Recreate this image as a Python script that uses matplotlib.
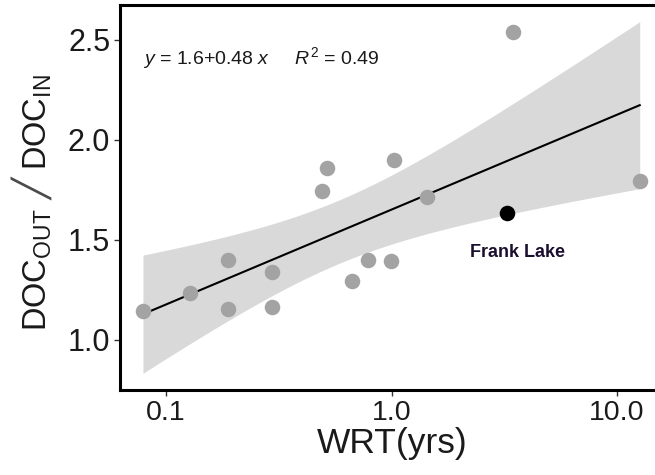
import numpy as np
import matplotlib
matplotlib.use("Agg")
import matplotlib.pyplot as plt

plt.rcParams['font.family'] = ['Liberation Sans', 'DejaVu Sans']
plt.rcParams['mathtext.fontset'] = 'custom'
plt.rcParams['mathtext.rm'] = 'Liberation Sans'
plt.rcParams['mathtext.it'] = 'Liberation Sans:italic'

# data (WRT in years, DOC ratio) -- fitted points
wrt = [0.079, 0.128, 0.188, 0.188, 0.295, 0.295, 0.492, 0.517, 0.668,
       0.787, 0.995, 1.03, 1.435, 3.47, 12.6]
doc_ratio = [1.145, 1.235, 1.40, 1.155, 1.34, 1.165, 1.745, 1.86, 1.295,
             1.40, 1.395, 1.90, 1.715, 2.54, 1.795]
# highlighted lake (not part of the fit)
frank_wrt = [3.24]
frank_ratio = [1.635]
frank_label = "Frank Lake"
eq_text = r"$\it{y}$ = 1.6+0.48 $\it{x}$     $\it{R}^2$ = 0.49"
x_ticks = [0.1, 1.0, 10.0]
x_ticklabels = ["0.1", "1.0", "10.0"]
y_ticks = [1.0, 1.5, 2.0, 2.5]
y_ticklabels = ["1.0", "1.5", "2.0", "2.5"]
ylab_num = r"$\mathrm{DOC_{OUT}}$"
ylab_den = r"$\mathrm{DOC_{IN}}$"
ylab_sep = "\u2571"
t_crit = 2.160  # 95% t quantile, df = 13

fig = plt.figure(figsize=(6.55, 4.75), dpi=100)
ax = fig.add_axes([0.1832, 0.179, 0.832, 0.8105])

# linear regression of ratio on log10(WRT)
lx = np.log10(np.array(wrt))
ly = np.array(doc_ratio)
n = len(lx)
b, a = np.polyfit(lx, ly, 1)
resid = ly - (a + b * lx)
s = np.sqrt(np.sum(resid ** 2) / (n - 2))
xm = lx.mean()
sxx = np.sum((lx - xm) ** 2)
xs = np.linspace(lx.min(), lx.max(), 200)
ys = a + b * xs
se = s * np.sqrt(1.0 / n + (xs - xm) ** 2 / sxx)
ax.fill_between(10 ** xs, ys - t_crit * se, ys + t_crit * se,
                color='#d9d9d9', lw=0, zorder=1)
ax.plot(10 ** xs, ys, color='black', lw=1.5, zorder=2)

ax.scatter(wrt, doc_ratio, s=125, color='#a3a3a3', lw=0, zorder=3)
ax.scatter(frank_wrt, frank_ratio, s=125, color='black', lw=0, zorder=4)
ax.annotate(frank_label, (frank_wrt[0], frank_ratio[0]), xytext=(7.5, -28.5),
            textcoords='offset points', ha='center', va='center',
            fontsize=13, fontweight='bold', color='#1a0f2e')

ax.text(0.042, 0.862, eq_text, transform=ax.transAxes, fontsize=14,
        ha='left', va='center', color='#1a1a1a')

ax.set_xscale('log')
ax.set_xlim(0.0625, 16.3)
ax.set_ylim(0.75, 2.675)
ax.set_xticks(x_ticks)
ax.set_xticklabels(x_ticklabels)
ax.set_yticks(y_ticks)
ax.set_yticklabels(y_ticklabels)
ax.xaxis.set_minor_locator(matplotlib.ticker.NullLocator())
ax.tick_params(axis='both', length=4, width=1, color='#333333',
               labelcolor='#1a1a1a')
ax.tick_params(axis='x', labelsize=20.5, pad=3)
ax.tick_params(axis='y', labelsize=22, pad=3)
for sp in ['left', 'bottom', 'top']:
    ax.spines[sp].set_linewidth(2.2)
    ax.spines[sp].set_color('black')
ax.spines['right'].set_visible(False)

ax.set_xlabel('WRT(yrs)', fontsize=25.5, labelpad=1, color='#1a1a1a')

# y axis label: DOC_OUT / DOC_IN built from three rotated texts
W, H = 655.0, 475.0
common = dict(rotation=90, rotation_mode='anchor', ha='center',
              va='baseline', fontsize=23.5, color='#1a1a1a')
fig.text(47 / W, 1 - 270 / H, ylab_num, **common)
fig.text(47 / W, 1 - 122 / H, ylab_den, **common)
fig.text(33 / W, 1 - 190 / H, ylab_sep, rotation=90, rotation_mode='anchor',
         ha='center', va='center', fontsize=25,
         family=['DejaVu Sans'], color='#4a4a4a')

fig.savefig('out.png', dpi=100)
